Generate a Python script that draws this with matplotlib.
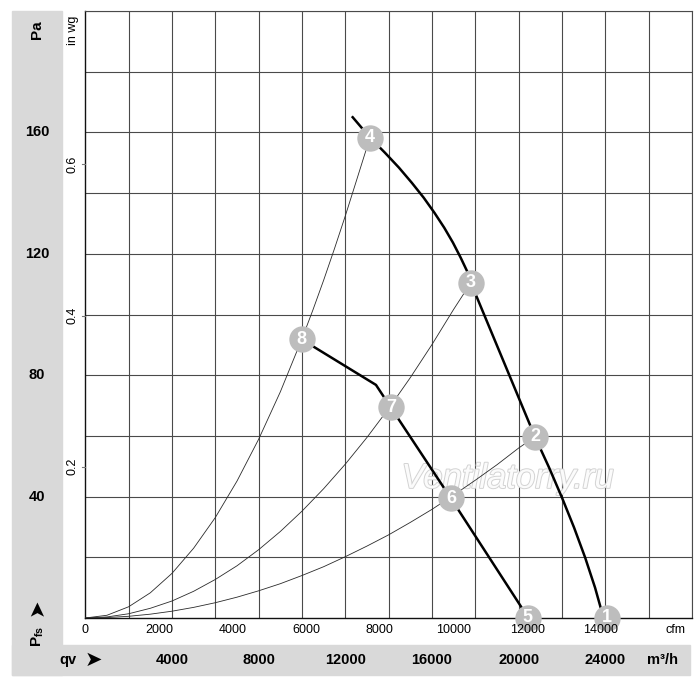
import matplotlib
matplotlib.use("Agg")
import matplotlib.pyplot as plt
from matplotlib.patches import Rectangle
import matplotlib.patheffects as pe

plt.rcParams['font.family'] = ['Liberation Sans', 'DejaVu Sans']
plt.rcParams['mathtext.fontset'] = 'custom'
plt.rcParams['mathtext.rm'] = 'Liberation Sans'
plt.rcParams['mathtext.bf'] = 'Liberation Sans:bold'

# ---- data (qv in m3/h, pressure in Pa) ----
curve_a_q = [12340, 13138, 13830, 14474, 15069, 15616, 16115, 16565, 16966, 17326, 17651,
             17799, 18030, 20753, 21408, 22003, 22557, 23069, 23526, 23918]
curve_a_p = [165.0, 158.3, 153.3, 148.4, 143.4, 138.5, 133.5, 128.6, 123.7, 118.7, 113.8,
             110.5, 106.4, 59.7, 49.5, 39.6, 29.8, 19.9, 10.0, 0.0]

curve_b_q = [9986, 13415, 14097, 16875, 20450]
curve_b_p = [91.8, 76.8, 69.4, 39.4, 0.0]

sys1_q = [0, 1000, 2000, 3000, 4000, 5000, 6000, 7000, 8000, 9000, 10000, 10500, 11000,
          11500, 12000, 12500, 13138]
sys1_p = [0, 0.9, 3.7, 8.3, 14.7, 23.0, 33.1, 45.1, 58.9, 74.5, 92.0, 101.4, 111.3,
          121.7, 132.5, 143.8, 158.3]

sys2_q = [0, 1000, 2000, 3000, 4000, 5000, 6000, 7000, 8000, 9000, 10000, 11000, 12000,
          13000, 14000, 15000, 16000, 17000, 17799]
sys2_p = [0, 0.35, 1.4, 3.2, 5.6, 8.8, 12.7, 17.2, 22.5, 28.5, 35.2, 42.6, 50.7,
          59.5, 69.0, 79.2, 90.1, 101.7, 110.5]

sys3_q = [0, 1000, 2000, 3000, 4000, 5000, 6000, 7000, 8000, 9000, 10000, 11000, 12000,
          13000, 14000, 15000, 16000, 17000, 18000, 19000, 20000, 20753]
sys3_p = [0, 0.14, 0.56, 1.26, 2.24, 3.5, 5.04, 6.86, 8.96, 11.3, 14.0, 16.9, 20.2,
          23.7, 27.4, 31.5, 35.8, 40.5, 45.4, 50.5, 56.0, 59.7]

point_labels = ['1', '2', '3', '4', '5', '6', '7', '8']
point_q = [24060, 20753, 17799, 13138, 20415, 16875, 14097, 9986]
point_p = [0.0, 59.7, 110.5, 158.3, 0.0, 39.4, 69.4, 91.8]

pa_ticks = [40, 80, 120, 160]
m3h_ticks = [4000, 8000, 12000, 16000, 20000, 24000]
cfm_ticks = [0, 2000, 4000, 6000, 8000, 10000, 12000, 14000]
inwg_ticks = [0.2, 0.4, 0.6]

CFM_TO_M3H = 1.699
INWG_TO_PA = 249.09

W, H = 700, 682
fig = plt.figure(figsize=(W / 100, H / 100), dpi=100)

def fx(px):
    return px / W

def fy(py):
    return 1 - py / H

gray = '#d9d9d9'
# left gray panel and bottom band
fig.patches.append(Rectangle((fx(12), fy(675)), fx(62) - fx(12), fy(11) - fy(675),
                             transform=fig.transFigure, color=gray, zorder=0))
fig.patches.append(Rectangle((fx(12), fy(675)), fx(690) - fx(12), fy(645) - fy(675),
                             transform=fig.transFigure, color=gray, zorder=0))

L, R, T, B = 85.3, 692.0, 11.0, 618.0
ax = fig.add_axes([fx(L), fy(B), fx(R) - fx(L), fy(T) - fy(B)])
ax.set_xlim(0, 28000)
ax.set_ylim(0, 200)
ax.set_facecolor('white')

for q in range(2000, 28001, 2000):
    ax.axvline(q, color='#4a4a4a', lw=0.8, zorder=1)
for p in range(20, 201, 20):
    ax.axhline(p, color='#4a4a4a', lw=0.8, zorder=1)

for s in ['top', 'right']:
    ax.spines[s].set_color('#4a4a4a')
    ax.spines[s].set_linewidth(0.8)
for s in ['left', 'bottom']:
    ax.spines[s].set_color('#111111')
    ax.spines[s].set_linewidth(1.0)

ax.set_xticks([])
ax.set_yticks([])

# system curves (thin)
for q, p in [(sys1_q, sys1_p), (sys2_q, sys2_p), (sys3_q, sys3_p)]:
    ax.plot(q, p, color='#2a2a2a', lw=0.6, zorder=3, solid_capstyle='butt')

# fan curves (thick)
ax.plot(curve_a_q, curve_a_p, color='black', lw=1.8, zorder=4, clip_on=False,
        solid_joinstyle='round')
ax.plot(curve_b_q, curve_b_p, color='black', lw=1.8, zorder=4, clip_on=False,
        solid_joinstyle='round')

# watermark
ax.text(19500, 46, 'Ventilatorry.ru', fontsize=25, style='italic', color='#fbfbfb',
        ha='center', va='center', zorder=2,
        path_effects=[pe.withStroke(linewidth=1.4, foreground='#d3d3d3')])

# numbered markers
for lab, q, p in zip(point_labels, point_q, point_p):
    ax.plot([q], [p], 'o', ms=19, color='#bdbdbd', mec='none', zorder=6, clip_on=False)
    ax.text(q, p, lab, color='white', fontsize=13, fontweight='bold',
            ha='center', va='center', zorder=7)

# in wg ticks (left inner)
px_per_pa = (B - T) / 200.0
for v in inwg_ticks:
    ypx = B - v * INWG_TO_PA * px_per_pa
    fig.lines.append(plt.Line2D([fx(81.5), fx(L)], [fy(ypx), fy(ypx)],
                                transform=fig.transFigure, color='#777777', lw=0.8))
    fig.text(fx(73), fy(ypx), f'{v:.1f}', rotation=90, fontsize=9,
             ha='center', va='center')
fig.text(fx(73), fy(30), 'in wg', rotation=90, fontsize=9, ha='center', va='center')

# Pa labels
for v in pa_ticks:
    fig.text(fx(37), fy(B - v * px_per_pa), str(v), fontsize=10.5, fontweight='bold',
             ha='center', va='center')
fig.text(fx(37), fy(30), 'Pa', rotation=90, fontsize=11, fontweight='bold',
         ha='center', va='center')
fig.text(fx(38), fy(636), r'$\mathbf{P}_{\mathbf{fs}}$', rotation=90, fontsize=11,
         ha='center', va='center')
fig.text(fx(37), fy(607), '➤', rotation=90, fontsize=15, fontweight='bold',
         ha='center', va='center')

# cfm labels
px_per_m3h = (R - L) / 28000.0
for v in cfm_ticks:
    fig.text(fx(L + v * CFM_TO_M3H * px_per_m3h), fy(630), str(v), fontsize=9,
             ha='center', va='center')
fig.text(fx(675), fy(630), 'cfm', fontsize=9, ha='center', va='center')

# m3/h labels
for v in m3h_ticks:
    fig.text(fx(L + v * px_per_m3h), fy(660), str(v), fontsize=10.5, fontweight='bold',
             ha='center', va='center')
fig.text(fx(68), fy(660), 'qv', fontsize=10.5, fontweight='bold', ha='center', va='center')
fig.text(fx(93), fy(660), '➤', fontsize=15, fontweight='bold', ha='center', va='center')
fig.text(fx(663), fy(660), 'm³/h', fontsize=10.5, fontweight='bold', ha='center', va='center')

fig.savefig('out.png', dpi=100)
